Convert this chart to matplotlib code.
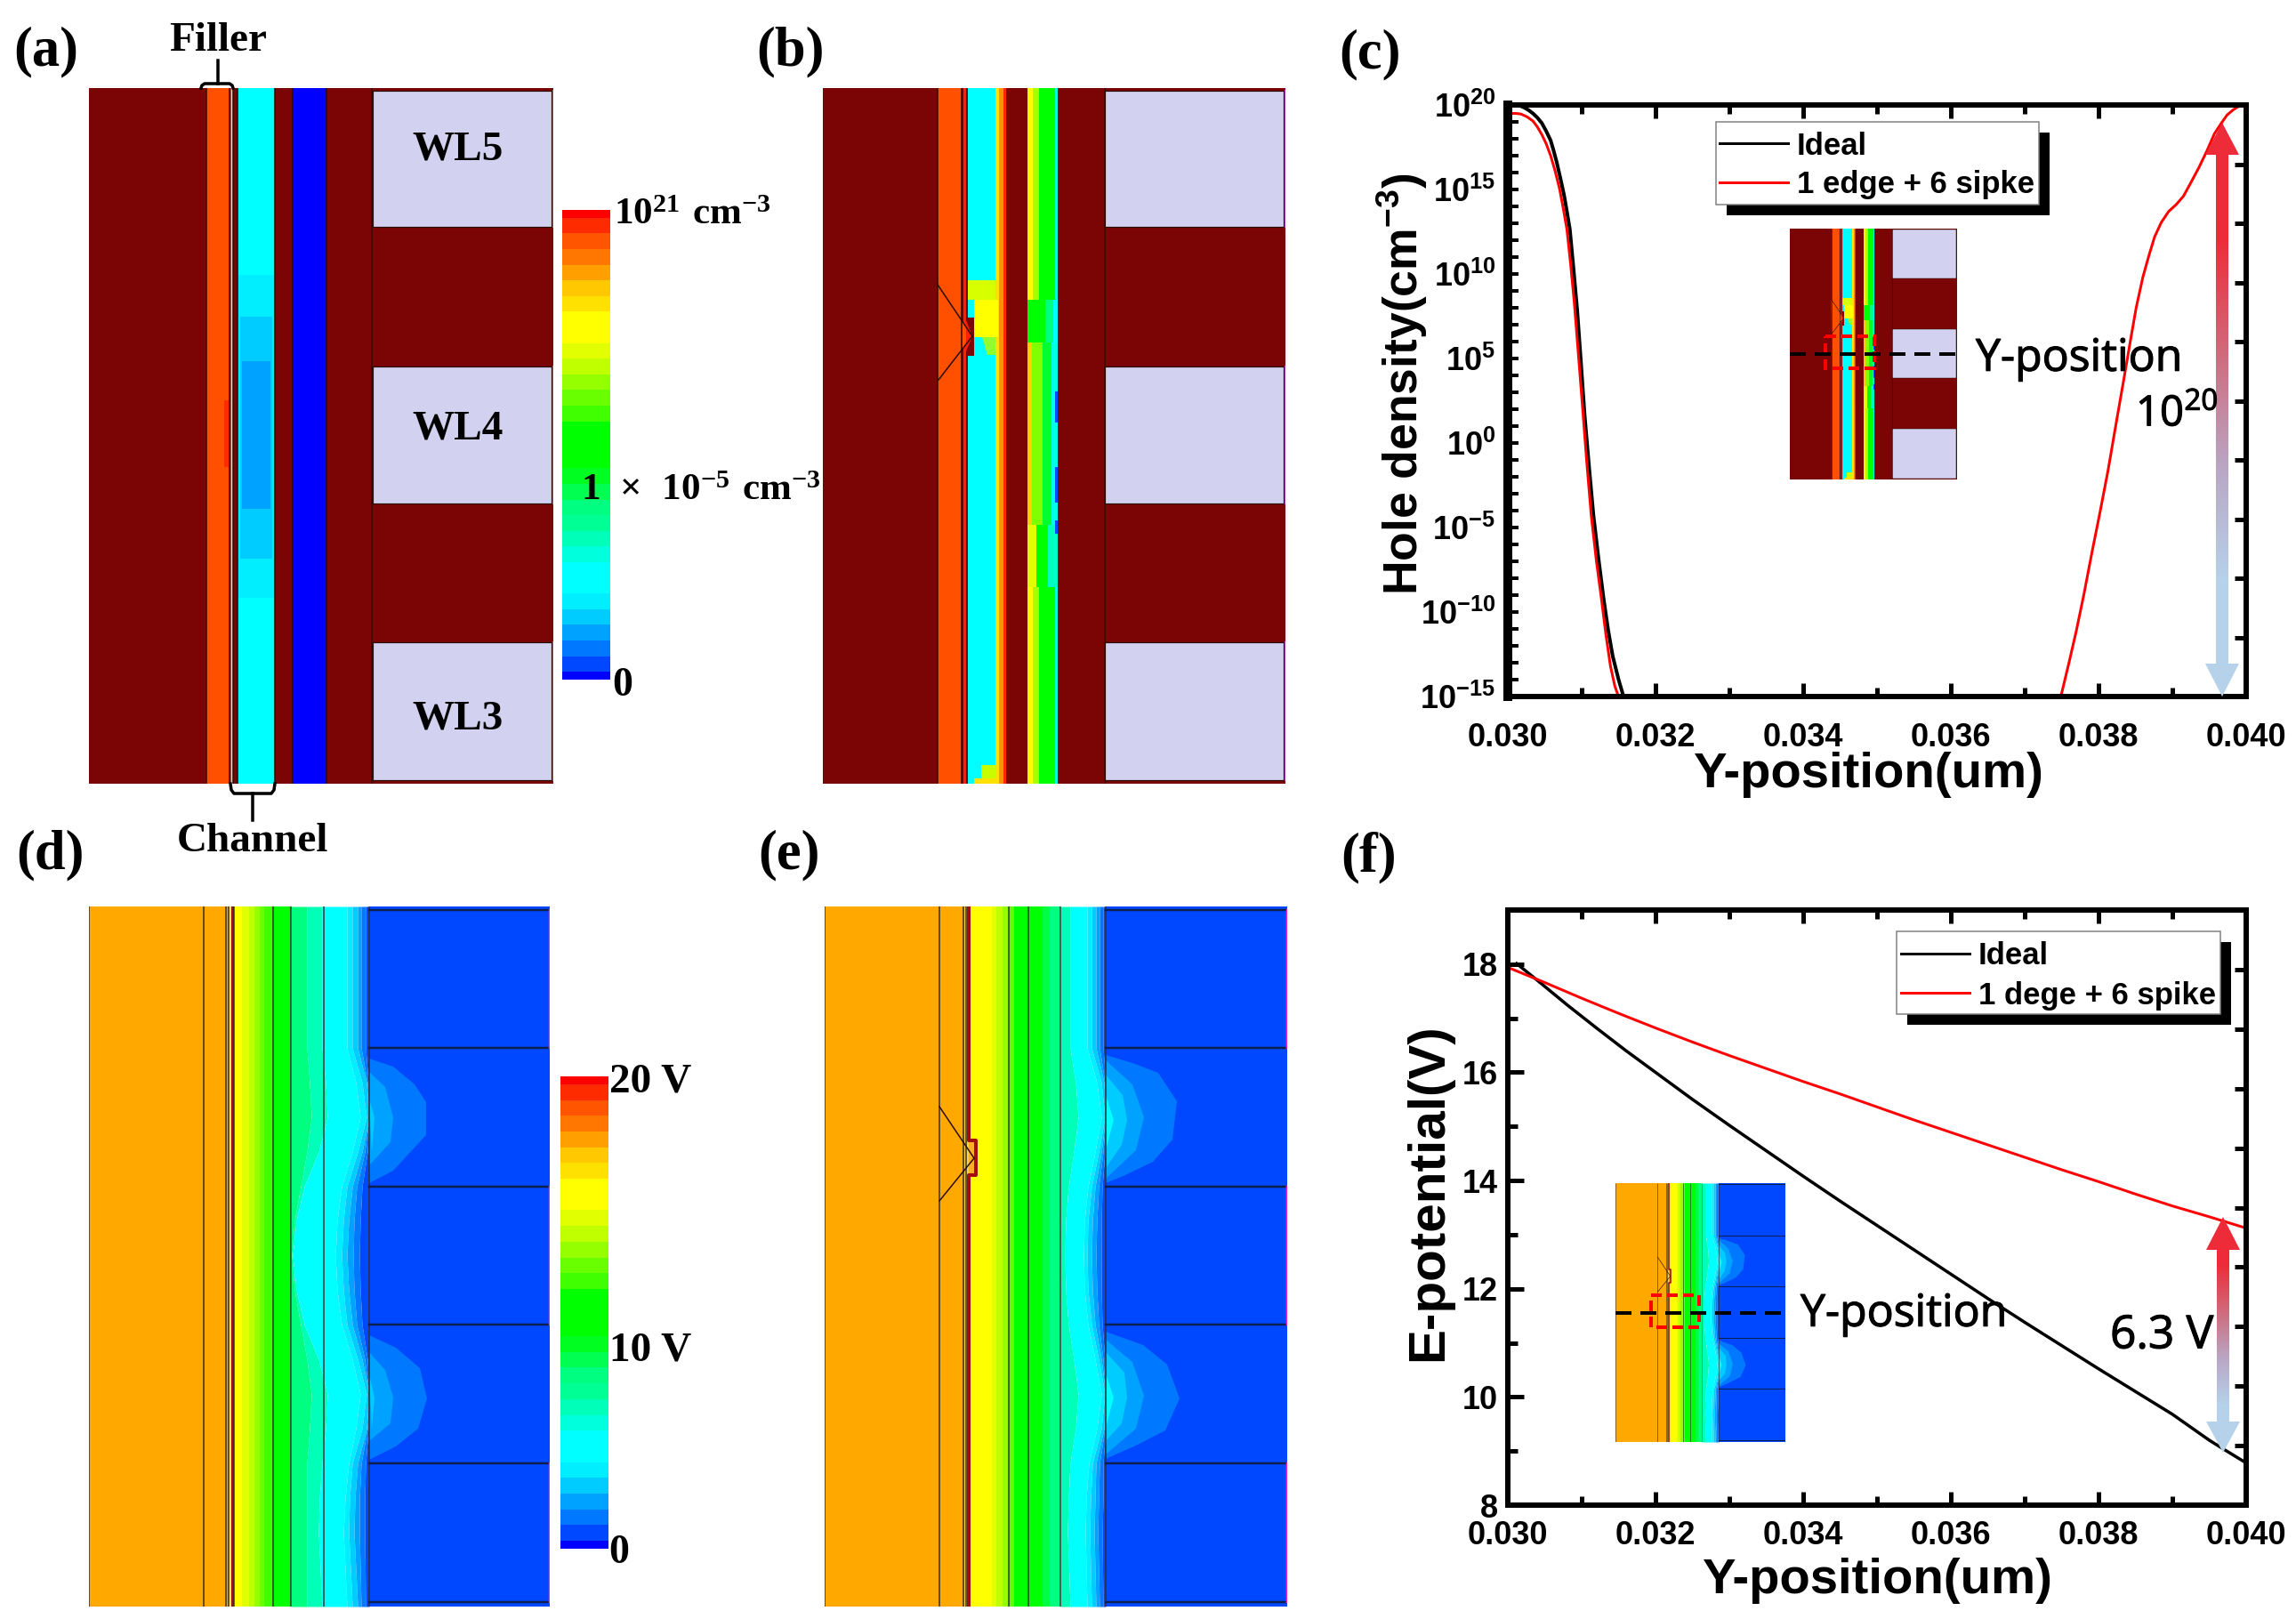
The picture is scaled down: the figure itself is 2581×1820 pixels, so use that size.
import numpy as np
import matplotlib
matplotlib.use("Agg")
import matplotlib.pyplot as plt
import matplotlib.patheffects as pe
from matplotlib.colors import LinearSegmentedColormap, ListedColormap
from matplotlib.patches import Polygon, Rectangle

W, H = 2581, 1820
PX = 0.72  # one image pixel in points at dpi 100

plt.rcParams["font.family"] = "Liberation Sans"
plt.rcParams["mathtext.fontset"] = "custom"
plt.rcParams["mathtext.rm"] = "Liberation Sans:bold"
plt.rcParams["mathtext.bf"] = "Liberation Serif:bold"
plt.rcParams["mathtext.sf"] = "Open Sans"
plt.rcParams["mathtext.default"] = "rm"

# colours ------------------------------------------------------------------
DARK = "#7b0404"
ORANGE = "#ff5000"
LAVENDER = "#d2d2f0"
AMBER = "#ffa800"
WL_BLUE = "#0048ff"
LINE = "#2a0c00"
EDGE = "#c040c0"

BAND_COLORS = ["#ff0000", "#ff2b00", "#ff5500", "#ff7700", "#ffa000", "#ffc800", "#ffe100",
               "#ffff00", "#ffff00", "#e1ff00", "#bfff00", "#95ff00", "#6aff00", "#40ff00",
               "#00ff00", "#00ff00", "#00ff00", "#00ff20", "#00ff50", "#00ff80", "#00ff95",
               "#00ffb8", "#00ffdd", "#00ffff", "#00ffff", "#00eeff", "#00ccff", "#00a2ff",
               "#0078ff", "#0048ff", "#0000ff"]

# panel (a) ----------------------------------------------------------------
a_box = (100, 99, 622, 881)
a_edges = [100, 232, 258, 260, 262, 267, 309, 329, 367, 622]
a_colors = [DARK, ORANGE, "#ff3000", "#f4d8c8", DARK, "#00ffff", DARK, "#0000ff", DARK]
a_lines = [232, 258, 262, 267, 309, 329, 367, 418]
a_channel_x = [(267, 309), (270, 306), (272, 304)]
a_channel_y = [(309, 672), (356, 628), (406, 572)]
a_channel_c = ["#00eeff", "#00ccff", "#00a2ff"]
a_wl_x = (419, 620)
a_wl_y = [(102, 255), (412, 566), (722, 877)]
wl_names = ["WL5", "WL4", "WL3"]
wl_label_y = [164, 478, 804]

# panel (b) ----------------------------------------------------------------
b_box = (925, 99, 1445, 881)
b_edges = [925, 1054, 1081, 1083, 1086, 1088, 1119, 1123, 1128, 1131, 1155, 1161, 1168, 1186, 1189, 1445]
b_colors = [DARK, ORANGE, DARK, "#ff2000", DARK, "#00ffff", "#ffe000", "#ff9000", "#ff2a00", DARK,
            "#ffff00", "#a8ff00", "#00ff00", "#00ffe0", DARK]
b_lines = [1054, 1081, 1242]
b_patch_x0 = [1088, 1095, 1155, 1175, 1184, 1155, 1160, 1172, 1182, 1155, 1165, 1178, 1103, 1095]
b_patch_y0 = [315, 337, 337, 337, 337, 385, 385, 385, 385, 590, 590, 590, 860, 875]
b_patch_x1 = [1119, 1122, 1175, 1184, 1189, 1160, 1172, 1182, 1189, 1165, 1178, 1189, 1119, 1119]
b_patch_y1 = [337, 379, 385, 385, 385, 590, 590, 590, 590, 660, 660, 660, 878, 881]
b_patch_c = ["#d8ff00", "#ffff00", "#00ff00", "#00ff80", "#00ffff", "#ffd000", "#80ff00", "#00ff30",
             "#00ffe8", "#e0ff00", "#00ff00", "#00ffc0", "#c8ff00", "#ffe000"]
b_triangle_x = [1104, 1119, 1119, 1110]
b_triangle_y = [379, 379, 399, 399]
b_spike_x = [1054, 1093, 1055]
b_spike_y = [320, 378, 427]
b_notch_x = [1088, 1095, 1095, 1088]
b_notch_y = [357, 357, 400, 400]
b_cold_x = [(1186, 1189), (1186, 1189), (1186, 1189)]
b_cold_y = [(440, 475), (525, 565), (585, 600)]
b_wl_x = (1242, 1443)

# panels (d), (e) ----------------------------------------------------------
d_box = (100, 1019, 618, 1806)
e_box = (927, 1019, 1447, 1806)
wl_lines_y = [1023, 1178, 1334, 1489, 1645, 1801]
wiggle_y = [1019, 1178, 1217, 1256, 1295, 1334, 1372, 1411, 1450, 1489, 1528, 1567, 1606, 1645, 1684, 1723, 1806]

d_edges = [100, 257, 260, 263, 272, 280, 286, 292, 297, 307, 327]
d_colors = [AMBER, "#ffe070", "#a01010", "#ffff00", "#e1ff00", "#bfff00", "#95ff00", "#6aff00", "#40ff00", "#00ff00"]
d_lines = [100, 229, 254, 257, 263, 307, 327, 364, 415]
d_wiggle = [[327] * 17,
            [345, 345, 348, 350, 345, 338, 331, 328, 331, 338, 345, 350, 348, 345, 345, 345, 345],
            [362, 362, 366, 368, 358, 342, 333, 329, 333, 342, 358, 368, 366, 362, 359, 358, 362],
            [390, 390, 400, 405, 396, 384, 379, 377, 379, 384, 396, 405, 400, 392, 388, 386, 390],
            [396, 396, 407, 412, 402, 390, 386, 384, 386, 390, 402, 412, 407, 396, 393, 392, 396],
            [402, 402, 412, 415, 407, 396, 392, 390, 392, 396, 407, 415, 412, 402, 399, 398, 402],
            [406, 406, 413, 415, 410, 401, 398, 397, 398, 401, 410, 415, 413, 406, 404, 404, 406],
            [411, 411, 414, 415, 413, 407, 405, 404, 405, 407, 413, 415, 414, 411, 410, 410, 411],
            [415] * 17]
d_wiggle_c = ["#00ff80", "#00ffb8", "#00ffff", "#00eeff", "#00ccff", "#00a2ff", "#0078ff", "#0048ff"]
d_wl_x = 415
d_right = 618
d_bulge_dx = [[0, 27, 51, 64, 64, 27, 0], [0, 18, 27, 24, 0], [0, 6, 3],
              [0, 30, 57, 65, 55, 30, 0], [0, 18, 27, 24, 0], [0, 6, 3]]
d_bulge_y = [[1190, 1199, 1219, 1239, 1276, 1316, 1330], [1205, 1222, 1256, 1284, 1310], [1235, 1256, 1296],
             [1501, 1515, 1538, 1572, 1606, 1626, 1641], [1520, 1540, 1571, 1600, 1620], [1545, 1571, 1606]]
d_bulge_c = ["#0078ff", "#00a2ff", "#00ccff", "#0078ff", "#00a2ff", "#00ccff"]

e_edges = [927, 1084, 1090, 1115, 1120, 1127, 1134, 1140, 1156, 1172, 1180, 1192]
e_colors = [AMBER, "#ffd040", "#ffff00", "#e1ff00", "#bfff00", "#95ff00", "#60ff00", "#00ff00", "#00ff00", "#00ff40", "#00ff80"]
e_lines = [927, 1056, 1083, 1086, 1134, 1156, 1192, 1243]
e_wiggle = [[1192] * 17,
            [1203, 1203, 1209, 1212, 1207, 1201, 1198, 1197, 1198, 1201, 1207, 1212, 1209, 1203, 1201, 1200, 1203],
            [1222, 1222, 1233, 1238, 1231, 1223, 1219, 1218, 1219, 1223, 1231, 1238, 1233, 1224, 1221, 1220, 1222],
            [1227, 1227, 1238, 1242, 1235, 1227, 1223, 1222, 1223, 1227, 1235, 1242, 1238, 1228, 1226, 1225, 1227],
            [1232, 1232, 1241, 1243, 1238, 1231, 1228, 1227, 1228, 1231, 1238, 1243, 1241, 1232, 1231, 1230, 1232],
            [1236, 1236, 1242, 1243, 1240, 1235, 1233, 1232, 1233, 1235, 1240, 1243, 1242, 1236, 1235, 1234, 1236],
            [1240, 1240, 1243, 1243, 1242, 1239, 1238, 1238, 1238, 1239, 1242, 1243, 1243, 1240, 1240, 1239, 1240],
            [1243] * 17]
e_wiggle_c = ["#00ffb8", "#00ffff", "#00eeff", "#00ccff", "#00a2ff", "#0078ff", "#0048ff"]
e_wl_x = 1243
e_right = 1447
e_bulge_dx = [[0, 30, 59, 80, 75, 53, 22, 0], [0, 30, 43, 34, 0], [0, 19, 24, 18, 0], [0, 9, 0],
              [0, 42, 69, 83, 67, 34, 0], [0, 30, 43, 34, 0], [0, 21, 24, 18, 0], [0, 9, 0]]
e_bulge_y = [[1186, 1195, 1206, 1238, 1281, 1306, 1321, 1330], [1192, 1219, 1256, 1293, 1325],
             [1208, 1231, 1259, 1287, 1313], [1231, 1259, 1293],
             [1497, 1512, 1534, 1572, 1608, 1625, 1640], [1506, 1531, 1569, 1606, 1635],
             [1520, 1543, 1571, 1600, 1620], [1544, 1571, 1605]]
e_bulge_c = ["#0078ff", "#00a2ff", "#00ccff", "#00ffff"] * 2
e_notch_x = [1089, 1089, 1097, 1097, 1089, 1089]
e_notch_y = [1019, 1282, 1282, 1321, 1321, 1806]
e_spike_x = [1056, 1095, 1056]
e_spike_y = [1244, 1302, 1350]

# panel (c) curves ---------------------------------------------------------
c_ideal_x = [0.03015, 0.03022, 0.03028, 0.03034, 0.0304, 0.03046, 0.03052, 0.03058, 0.03062, 0.03066, 0.03071,
             0.03076, 0.0308, 0.03084, 0.03089, 0.03094, 0.03099, 0.03104, 0.0311, 0.03116, 0.03123, 0.0313,
             0.03136, 0.03142, 0.0315, 0.03157]
c_ideal_exp = [19.98, 19.85, 19.7, 19.5, 19.25, 18.93, 18.45, 17.9, 17.3, 16.65, 15.7,
               14.7, 13.7, 12.64, 10.3, 7.84, 4.8, 1.66, -1.4, -4.3, -6.9, -9.3,
               -11.1, -12.6, -14.0, -15.05]
c_left_x = [0.03004, 0.03011, 0.03018, 0.03026, 0.03034, 0.0304, 0.03046, 0.03052, 0.03058, 0.03064, 0.0307,
            0.03075, 0.0308, 0.03085, 0.0309, 0.03096, 0.03102, 0.03107, 0.03113, 0.0312, 0.03127, 0.03133,
            0.03139, 0.03145, 0.0315]
c_left_exp = [19.5, 19.5, 19.46, 19.3, 19.05, 18.7, 18.25, 17.7, 17.0, 16.1, 15.05,
              13.9, 12.64, 10.6, 8.3, 5.0, 1.66, -1.2, -4.3, -7.0, -9.3, -11.4,
              -13.2, -14.4, -15.0]
c_right_x = [0.03749, 0.0376, 0.0377, 0.0378, 0.03791, 0.03802, 0.03813, 0.03824, 0.03834, 0.03843, 0.03851, 0.0386,
             0.03868, 0.03876, 0.03885, 0.03895, 0.03905, 0.03915, 0.03925, 0.03936, 0.03947, 0.03957, 0.03966,
             0.03974, 0.03982, 0.03989, 0.03998]
c_right_exp = [-15.0, -13.0, -11.1, -9.0, -6.5, -4.1, -1.6, 1.2, 3.7, 6.0, 8.0, 9.8,
               11.05, 12.2, 13.05, 13.7, 14.1, 14.6, 15.4, 16.3, 17.3, 18.3, 18.9,
               19.4, 19.7, 19.9, 20.0]
c_label_exp = [20, 15, 10, 5, 0, -5, -10, -15]
c_minor_exp = list(range(-15, 21))
c_right_ticks = [16.5, 13, 9.5, 6, 2.5, -1, -4.5, -8, -11.5]

# panel (f) curves ---------------------------------------------------------
f_ideal_x = [0.03012, 0.0302, 0.0304, 0.0308, 0.0312, 0.0316, 0.032, 0.0325, 0.033, 0.0335, 0.034, 0.0345,
             0.035, 0.0355, 0.036, 0.0365, 0.037, 0.0375, 0.038, 0.0385, 0.039, 0.0395, 0.0397, 0.040]
f_ideal_y = [18.01, 17.92, 17.70, 17.25, 16.82, 16.40, 16.0, 15.5, 15.02, 14.55, 14.08, 13.62,
             13.17, 12.72, 12.27, 11.82, 11.38, 10.95, 10.52, 10.1, 9.68, 9.2, 9.03, 8.78]
f_spike_x = [0.030, 0.0305, 0.031, 0.0315, 0.032, 0.0325, 0.033, 0.0335, 0.034, 0.0345, 0.035,
             0.0355, 0.036, 0.0365, 0.037, 0.0375, 0.038, 0.0385, 0.039, 0.0395, 0.040]
f_spike_y = [17.94, 17.66, 17.37, 17.09, 16.82, 16.56, 16.31, 16.07, 15.83, 15.6, 15.36,
             15.12, 14.89, 14.66, 14.43, 14.2, 13.98, 13.75, 13.53, 13.33, 13.12]
f_right_ticks = [17.9, 16.8, 15.7, 14.6, 13.5, 12.4, 11.3, 10.2, 9.1]

x_major = [0.030, 0.032, 0.034, 0.036, 0.038, 0.040]
x_minor = [0.031, 0.033, 0.035, 0.037, 0.039]
x_labels = ["0.030", "0.032", "0.034", "0.036", "0.038", "0.040"]


def add_axes_px(x0, y0, x1, y1):
    return fig.add_axes([x0 / W, 1 - y1 / H, (x1 - x0) / W, (y1 - y0) / H])


def panel_axes(pos, box):
    ax = add_axes_px(*pos)
    ax.set_xlim(box[0], box[2])
    ax.set_ylim(box[3], box[1])
    ax.axis("off")
    return ax


def strips(ax, edges, colors, y0, y1):
    for i, c in enumerate(colors):
        ax.add_patch(Rectangle((edges[i], y0), edges[i + 1] - edges[i], y1 - y0, fc=c, lw=0))


def vlines(ax, xs, y0, y1, color=LINE, width=1.5, scale=1.0):
    for x in xs:
        ax.plot([x, x], [y0, y1], color=color, lw=width * PX * scale, solid_capstyle="butt")


def wl_boxes(ax, wl_x, wl_y, scale=1.0):
    for top, bottom in wl_y:
        ax.add_patch(Rectangle((wl_x[0], top), wl_x[1] - wl_x[0], bottom - top, fc=LAVENDER,
                               ec=LINE, lw=1.2 * PX * scale))
        ax.plot([wl_x[1] + 1.5, wl_x[1] + 1.5], [top, bottom], color=EDGE, lw=2 * PX * scale)


def draw_a(ax):
    strips(ax, a_edges, a_colors, a_box[1], a_box[3])
    for (x0, x1), (y0, y1), c in zip(a_channel_x, a_channel_y, a_channel_c):
        ax.add_patch(Rectangle((x0, y0), x1 - x0, y1 - y0, fc=c, lw=0))
    ax.add_patch(Rectangle((252, 450), 6, 75, fc="#ff2a00", lw=0))
    vlines(ax, a_lines, a_box[1], a_box[3])
    wl_boxes(ax, a_wl_x, a_wl_y)


def draw_b(ax, scale=1.0):
    strips(ax, b_edges, b_colors, b_box[1], b_box[3])
    for x0, y0, x1, y1, c in zip(b_patch_x0, b_patch_y0, b_patch_x1, b_patch_y1, b_patch_c):
        ax.add_patch(Rectangle((x0, y0), x1 - x0, y1 - y0, fc=c, lw=0))
    ax.fill(b_triangle_x, b_triangle_y, color="#90ff30", lw=0)
    ax.fill(b_notch_x, b_notch_y, color=DARK, lw=0)
    ax.fill(b_spike_x, b_spike_y, color=ORANGE, lw=0)
    ax.fill([1086, 1093, 1086], [360, 378, 395], color="#ff2000", lw=0)
    for (x0, x1), (y0, y1) in zip(b_cold_x, b_cold_y):
        ax.add_patch(Rectangle((x0, y0), x1 - x0, y1 - y0, fc="#0050ff", lw=0))
    vlines(ax, b_lines, b_box[1], b_box[3], scale=scale)
    ax.plot(b_spike_x, b_spike_y, color=LINE, lw=1.5 * PX * scale)
    wl_boxes(ax, b_wl_x, a_wl_y, scale)


def draw_potential(ax, box, edges, colors, lines, wiggle, wiggle_c, wl_x, right,
                   bulge_dx, bulge_y, bulge_c, scale=1.0):
    strips(ax, edges, colors, box[1], box[3])
    for i, c in enumerate(wiggle_c):
        ax.fill_betweenx(wiggle_y, wiggle[i], wiggle[i + 1], color=c, lw=0)
    ax.add_patch(Rectangle((wl_x, box[1]), right - wl_x, box[3] - box[1], fc=WL_BLUE, lw=0))
    for dx, y, c in zip(bulge_dx, bulge_y, bulge_c):
        ax.fill(np.array(dx) + wl_x, y, color=c, lw=0)
    vlines(ax, lines, box[1], box[3], color="#303030", scale=scale)
    for y in wl_lines_y:
        ax.plot([wl_x, right], [y, y], color="#0c2050", lw=2.5 * PX * scale)
    for y0, y1 in zip(wl_lines_y[0::2], wl_lines_y[1::2]):
        ax.plot([right, right], [y0, y1], color="#ff20c0", lw=2.5 * PX * scale)


def draw_d(ax):
    draw_potential(ax, d_box, d_edges, d_colors, d_lines, d_wiggle, d_wiggle_c, d_wl_x, d_right,
                   d_bulge_dx, d_bulge_y, d_bulge_c)


def draw_e(ax, scale=1.0):
    draw_potential(ax, e_box, e_edges, e_colors, e_lines, e_wiggle, e_wiggle_c, e_wl_x, e_right,
                   e_bulge_dx, e_bulge_y, e_bulge_c, scale)
    ax.fill(e_notch_x[1:5], e_notch_y[1:5], color="#ffb020", lw=0)
    ax.plot(e_notch_x, e_notch_y, color="#a01010", lw=4 * PX * scale)
    ax.plot(e_spike_x, e_spike_y, color=LINE, lw=1.5 * PX * scale)


def color_scale(y0, y1, x0, x1):
    # end bands are half as tall as the others
    n = len(BAND_COLORS)
    step = (y1 - y0) / (n - 1)
    edges = np.r_[y0, y0 + step * (np.arange(n - 1) + 0.5), y1]
    ov.pcolormesh([x0, x1], edges, np.arange(n)[:, None], cmap=ListedColormap(BAND_COLORS),
                  vmin=-0.5, vmax=n - 0.5, shading="flat", rasterized=True)


def style_chart(ax, xlabel, xlabel_y, ylabel, ylabel_size, ylabel_x, ylabel_y, right_ticks, pad):
    ax.set_xlim(0.030, 0.040)
    ax.set_xticks(x_major)
    ax.set_xticklabels(x_labels)
    ax.set_xticks(x_minor, minor=True)
    ax.tick_params(axis="x", which="major", direction="in", top=True, length=15 * PX, width=5 * PX,
                   labelsize=26, pad=pad)
    ax.tick_params(axis="x", which="minor", direction="in", top=True, length=10 * PX, width=5 * PX)
    for lab in ax.get_xticklabels() + ax.get_yticklabels():
        lab.set_fontweight("bold")
    for s in ax.spines.values():
        s.set_linewidth(6 * PX)
    ax.set_xlabel(xlabel, fontsize=40.5, fontweight="bold", va="center")
    ax.xaxis.set_label_coords(xlabel_y[0], xlabel_y[1])
    ax.set_ylabel(ylabel, fontsize=ylabel_size, fontweight="bold", va="center")
    ax.yaxis.set_label_coords(ylabel_x, ylabel_y)
    # the right-hand ticks do not follow the left scale in the figure
    tw = ax.twinx()
    tw.set_yscale(ax.get_yscale())
    tw.set_ylim(ax.get_ylim())
    tw.set_yticks(right_ticks)
    tw.set_yticks([], minor=True)
    tw.tick_params(axis="y", which="major", direction="in", length=13 * PX, width=5 * PX, labelright=False)
    for s in tw.spines.values():
        s.set_visible(False)


def shadow_legend(x0, y0, x1, y1, line_x, rows):
    ov.add_patch(Rectangle((x0 + 12, y0 + 12), x1 - x0, y1 - y0, fc="black", lw=0))
    ov.add_patch(Rectangle((x0, y0), x1 - x0, y1 - y0, fc="white", ec="#808080", lw=1.5 * PX))
    for y, color, label in rows:
        ov.plot(line_x, [y, y], color=color, lw=3 * PX)
        ov.text(line_x[1] + 10, y + 3, label, fontsize=25, fontweight="bold", va="center", ha="left")


def grad_arrow(x, tip_top, base_top, base_bot, tip_bot, half_head=19, half_shaft=7):
    pts = [(x, tip_top), (x + half_head, base_top), (x + half_shaft, base_top), (x + half_shaft, base_bot),
           (x + half_head, base_bot), (x, tip_bot), (x - half_head, base_bot), (x - half_shaft, base_bot),
           (x - half_shaft, base_top), (x - half_head, base_top)]
    cm = LinearSegmentedColormap.from_list("arrow", ["#ee2b38", "#ee2b38", "#d06a7c", "#b9a6c4", "#b6d2ea", "#b6d2ea"])
    img = ov.imshow(np.linspace(0, 1, 256)[:, None], cmap=cm, aspect="auto",
                    extent=(x - half_head, x + half_head, tip_bot, tip_top))
    img.set_clip_path(Polygon(pts, transform=ov.transData))
    ov.set_xlim(0, W)
    ov.set_ylim(H, 0)


def serif(x, y, s, size=34, ha="left"):
    ov.text(x, y + 5, s, fontsize=size, family="Liberation Serif", fontweight="bold", ha=ha, va="center")


def note(x, y, s, size):
    t = ov.text(x, y, s, fontsize=size, family="Open Sans", va="center", ha="left")
    t.set_path_effects([pe.withStroke(linewidth=0.8, foreground="black")])


fig = plt.figure(figsize=(W / 100, H / 100), dpi=100, facecolor="white")

draw_a(panel_axes(a_box, a_box))
draw_b(panel_axes(b_box, b_box))
draw_d(panel_axes(d_box, d_box))
draw_e(panel_axes(e_box, e_box))

# panel (c)
axc = add_axes_px(1695, 118, 2525, 783)
axc.set_yscale("log")
axc.set_ylim(1e-15, 1e20)
axc.plot(c_ideal_x, 10.0 ** np.array(c_ideal_exp), color="black", lw=4 * PX)
axc.plot(c_left_x, 10.0 ** np.array(c_left_exp), color="red", lw=3 * PX)
axc.plot(c_right_x, 10.0 ** np.array(c_right_exp), color="red", lw=3 * PX)
axc.set_yticks([10.0 ** e for e in c_label_exp])
axc.set_yticklabels(["$10^{%d}$" % e for e in c_label_exp])
axc.set_yticks([10.0 ** e for e in c_minor_exp if e not in c_label_exp], minor=True)
axc.set_yticklabels([], minor=True)
axc.tick_params(axis="y", which="both", direction="in", length=12 * PX, width=4 * PX, labelsize=26, pad=10)
style_chart(axc, "Y-position(um)", ((2100 - 1695) / 830, -(871 - 783) / 665),
            "Hole density(cm$^{-3}$)", 38.5, (1576 - 1695) / 830, 1 - (432 - 118) / 665,
            [10.0 ** e for e in c_right_ticks], 21)
axc.spines["left"].set_linewidth(10 * PX)

# panel (f)
axf = add_axes_px(1695, 1023, 2525, 1692)
axf.set_ylim(8, 19)
axf.plot(f_ideal_x, f_ideal_y, color="black", lw=3.5 * PX)
axf.plot(f_spike_x, f_spike_y, color="red", lw=3 * PX)
axf.set_yticks([8, 10, 12, 14, 16, 18])
axf.set_yticks([9, 11, 13, 15, 17], minor=True)
axf.tick_params(axis="y", which="major", direction="in", length=18 * PX, width=5 * PX, labelsize=26, pad=8)
axf.tick_params(axis="y", which="minor", direction="in", length=11 * PX, width=5 * PX)
style_chart(axf, "Y-position(um)", ((2110 - 1695) / 830, -(1777 - 1692) / 669),
            "E-potential(V)", 42, (1606 - 1695) / 830, 1 - (1340 - 1023) / 669,
            f_right_ticks, 12)

# insets reuse the panel drawings
draw_b(panel_axes((2012, 257, 2200, 539), b_box), scale=0.4)
draw_e(panel_axes((1816, 1330, 2007, 1621), e_box), scale=0.4)

# overlay in image pixels for labels and annotations
ov = fig.add_axes([0, 0, 1, 1], zorder=10)
ov.set_xlim(0, W)
ov.set_ylim(H, 0)
ov.axis("off")
ov.patch.set_alpha(0)

color_scale(236, 764, 632, 686)
color_scale(1210, 1741, 630, 684)

for x, y, s in [(15, 53, "(a)"), (850, 53, "(b)"), (1505, 56, "(c)"), (18, 956, "(d)"), (852, 956, "(e)"), (1507, 959, "(f)")]:
    serif(x, y, s, size=45)
serif(245, 41, "Filler", ha="center")
serif(284, 941, "Channel", ha="center")
for y, s in zip(wl_label_y, wl_names):
    serif(515, y, s, ha="center")
serif(690, 237, r"$\mathbf{10^{21}\ cm^{-3}}$", size=31)
serif(653, 547, r"$\mathbf{1\ \times\ 10^{-5}\ cm^{-3}}$", size=31)
serif(688, 766, "0", size=33)
serif(685, 1211, "20 V")
serif(685, 1514, "10 V")
serif(684, 1741, "0", size=33)

# filler and channel brackets
ov.plot([226, 227, 230, 258, 261, 262], [99, 96, 94, 94, 96, 99], color="black", lw=3.5 * PX)
ov.plot([245, 245], [68, 94], color="black", lw=3.5 * PX)
ov.plot([259, 260, 263, 305, 308, 309], [881, 888, 892, 892, 888, 881], color="black", lw=3.5 * PX)
ov.plot([284, 284], [892, 922], color="black", lw=3.5 * PX)

shadow_legend(1929, 137, 2292, 230, [1933, 2010], [(161, "black", "Ideal"), (205, "red", "1 edge + 6 sipke")])
shadow_legend(2132, 1047, 2496, 1140, [2137, 2214], [(1072, "black", "Ideal"), (1116, "red", "1 dege + 6 spike")])

# line cut markers on the insets
ov.plot([2012, 2200], [398, 398], color="black", lw=4 * PX, ls=(0, (4.5, 2.5)))
ov.add_patch(Rectangle((2052, 378), 55, 36, fc="none", ec="red", lw=4 * PX, ls=(0, (3, 1.5))))
note(2221, 404, "Y-position", 36)
ov.plot([1816, 2007], [1476, 1476], color="black", lw=4 * PX, ls=(0, (4.5, 2.5)))
ov.add_patch(Rectangle((1856, 1456), 54, 36, fc="none", ec="red", lw=4 * PX, ls=(0, (3, 1.5))))
note(2024, 1478, "Y-position", 36)

grad_arrow(2498, 138, 174, 746, 783)
grad_arrow(2499, 1368, 1405, 1598, 1633)
note(2401, 466, r"$\mathsf{10^{20}}$", 34)
note(2372, 1502, "6.3 V", 37)

fig.savefig("out.png", dpi=100)
